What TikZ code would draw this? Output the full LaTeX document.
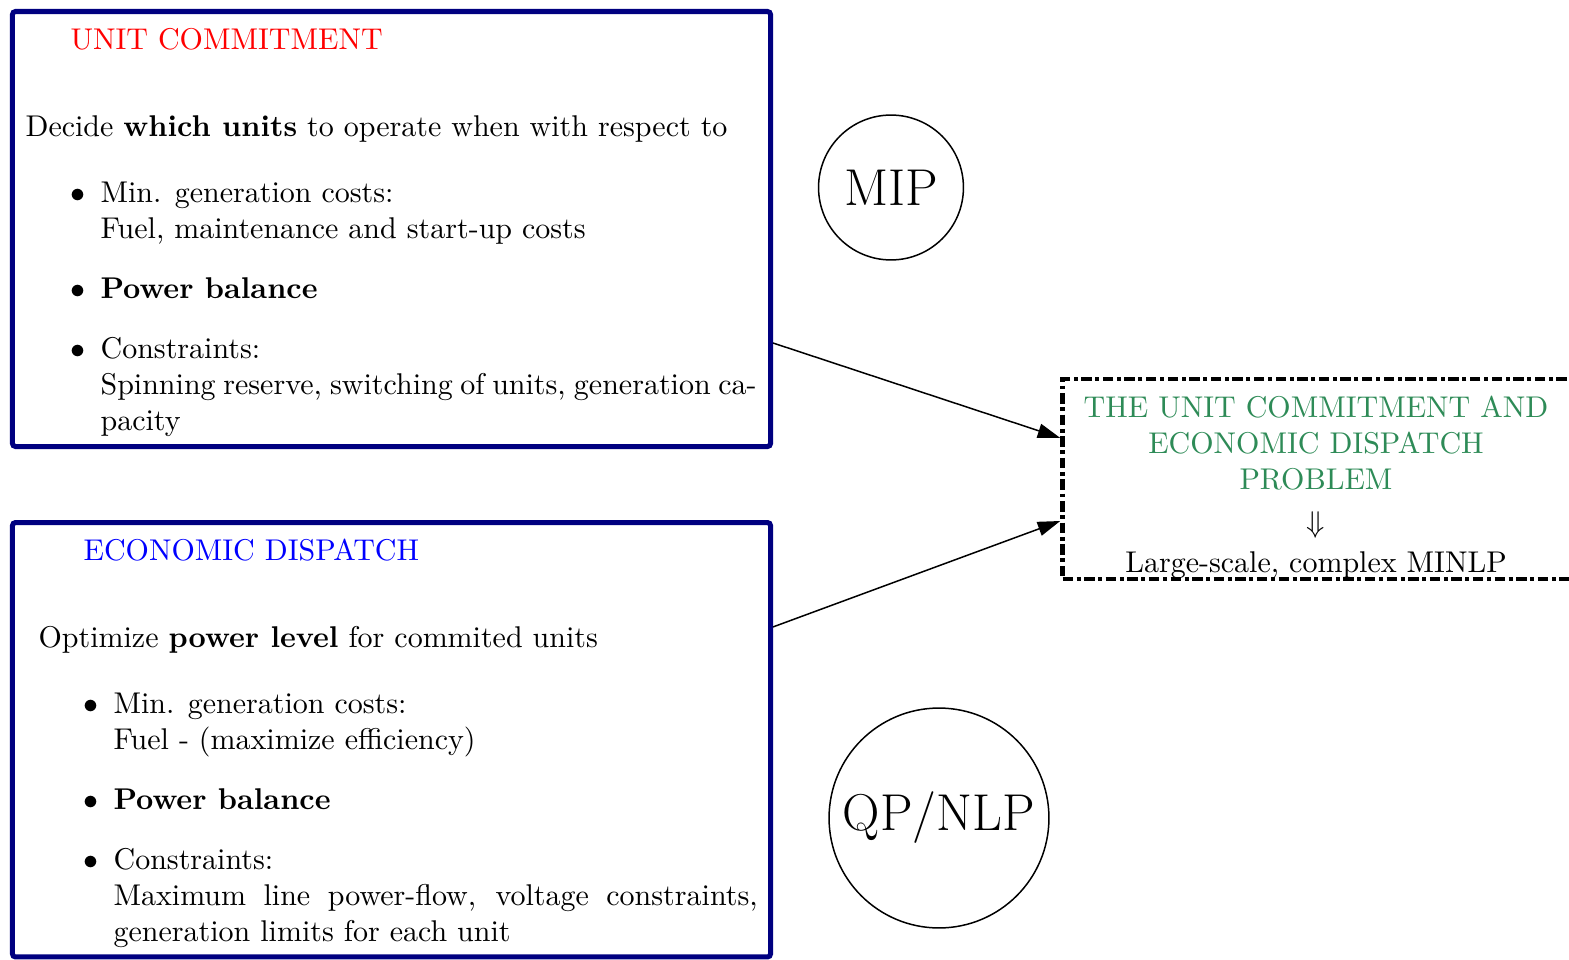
\documentclass[tikz,border=0pt]{standalone}
\usetikzlibrary{arrows.meta}
\definecolor{navyb}{RGB}{0,0,128}
\definecolor{seag}{RGB}{46,139,87}
\renewcommand\labelitemi{$\bullet$}
\tikzset{
  panel/.style={draw=navyb, line width=1.67pt, rounded corners=1pt, inner sep=0pt},
  paneltext/.style={anchor=north west, inner sep=0pt, align=justify},
  dashbox/.style={draw=black, line width=1.5pt, dash pattern=on 3.5pt off 1.2pt on 1.3pt off 1.2pt, inner sep=0pt},
  solver/.style={draw=black, circle, line width=0.5pt, inner sep=0pt, font=\LARGE},
  arr/.style={-{Triangle[length=7.5pt,width=4.8pt]}, line width=0.5pt}
}
\begin{document}
\begin{tikzpicture}[x=0.333333pt, y=-0.333333pt]
\useasboundingbox (0,0) rectangle (1569,960);

% panels
\node[panel, minimum width=252.67pt, minimum height=145pt] (ucbox) at (391.5,229) {};
\node[panel, minimum width=252.67pt, minimum height=144.8pt] (edbox) at (391.5,739.75) {};

\node[paneltext, text width=243.7pt] (uctext) at (25,27.5) {%
\hspace*{15pt}{\color{red}UNIT COMMITMENT}\par\vspace{17pt}
\noindent Decide \textbf{which units} to operate when with respect to

\begin{itemize}
\item Min. generation costs:\\ Fuel, maintenance and start-up costs
\item \textbf{Power balance}
\item Constraints:\\ Spinning reserve, switching of units, generation ca-\linebreak pacity
\end{itemize}};

\node[paneltext, text width=239.7pt] (edtext) at (38,538.5) {%
\hspace*{15pt}{\color{blue}ECONOMIC DISPATCH}\par\vspace{17pt}
\noindent Optimize \textbf{power level} for commited units

\begin{itemize}
\item Min. generation costs:\\ Fuel - (maximize efficiency)
\item \textbf{Power balance}
\item Constraints:\\ Maximum line power-flow, voltage constraints,\linebreak generation limits for each unit
\end{itemize}};

% solver circles
\node[solver, minimum size=48.3pt] (mip) at (891,187.5) {MIP};
\node[solver, minimum size=73.3pt] (qp) at (939,818) {QP/NLP};

% combined problem
\node[dashbox, minimum width=169.5pt, minimum height=66.7pt] (ued) at (1316.75,479) {};
\node[anchor=north, inner sep=0pt, align=center, text=seag] (uedtext) at (1316,395.5)
 {THE UNIT COMMITMENT AND\\ECONOMIC DISPATCH\\PROBLEM\\[2.4pt]
  {\color{black}$\Downarrow$}\\[1.3pt]{\color{black}Large-scale, complex MINLP}};

% connectors
\coordinate (ucout) at ([yshift=-38pt]ucbox.east);
\coordinate (edout) at ([yshift=37.6pt]edbox.east);
\coordinate (uedin1) at ([yshift=13.7pt]ued.west);
\coordinate (uedin2) at ([yshift=-14pt]ued.west);
\draw[arr] (ucout) -- (uedin1);
\draw[arr] (edout) -- (uedin2);
\end{tikzpicture}
\end{document}
